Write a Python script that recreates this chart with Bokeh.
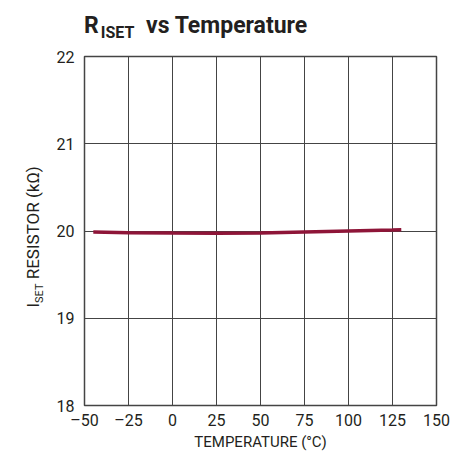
from bokeh.plotting import figure
from bokeh.models import Range1d, FixedTicker, Div
from bokeh.layouts import column, row
from bokeh.embed import file_html
from bokeh.resources import INLINE

temperature = [-45, -25, 0, 25, 50, 75, 100, 125, 130]
resistance = [19.989, 19.981, 19.977, 19.974, 19.977, 19.989, 20.0, 20.011, 20.015]
x_ticks = [-50, -25, 0, 25, 50, 75, 100, 125, 150]
x_tick_labels = ["–50", "–25", "0", "25", "50", "75", "100", "125", "150"]
y_ticks = [18, 19, 20, 21, 22]

FONT = "Roboto"
GRID = "#444444"
TXT = "#231f20"

W, H = 449, 443          # whole layout (page has an 8px margin)
TITLE_H = 38
YLAB_W = 40
FRAME_L, FRAME_R, FRAME_T, FRAME_B = 74, 426, 46, 398   # frame in layout coordinates

p = figure(width=W - YLAB_W, height=H - TITLE_H, output_backend="svg", toolbar_location=None,
           x_range=Range1d(-50, 150), y_range=Range1d(18, 22),
           min_border_left=FRAME_L - YLAB_W, min_border_right=W - FRAME_R,
           min_border_top=FRAME_T - TITLE_H, min_border_bottom=H - FRAME_B)

p.line(temperature, resistance, line_color="#8e1538", line_width=3.5)

for ax in (p.xaxis[0], p.yaxis[0]):
    ax.axis_line_color = None
    ax.major_tick_line_color = None
    ax.minor_tick_line_color = None
    ax.major_tick_out = 0
    ax.major_tick_in = 0
    ax.minor_tick_out = 0
    ax.major_label_text_font = FONT
    ax.major_label_text_font_size = "16px"
    ax.major_label_text_color = TXT

p.xaxis[0].ticker = FixedTicker(ticks=x_ticks)
p.xaxis[0].major_label_overrides = {t: l for t, l in zip(x_ticks, x_tick_labels)}
p.xaxis[0].major_label_standoff = 5
p.xaxis[0].axis_label = "TEMPERATURE (°C)"
p.xaxis[0].axis_label_text_font = FONT
p.xaxis[0].axis_label_text_font_size = "15px"
p.xaxis[0].axis_label_text_font_style = "normal"
p.xaxis[0].axis_label_text_color = TXT
p.xaxis[0].axis_label_standoff = 0
p.yaxis[0].ticker = FixedTicker(ticks=y_ticks)
p.yaxis[0].major_label_standoff = 10

p.xgrid.ticker = FixedTicker(ticks=x_ticks)
p.ygrid.ticker = FixedTicker(ticks=y_ticks)
p.grid.grid_line_color = GRID
p.grid.grid_line_width = 1
p.grid.grid_line_alpha = 1

p.outline_line_color = GRID
p.outline_line_width = 1.5
p.outline_line_alpha = 1

title_html = (
    f'<div style="position:relative;width:{W}px;height:{TITLE_H}px;">'
    f'<div style="position:absolute;left:79px;top:10px;white-space:nowrap;font-family:{FONT};'
    f'font-weight:bold;font-size:23px;line-height:22px;color:{TXT};">'
    'R<span style="font-size:16px;position:relative;top:5px;margin-left:2px;margin-right:6px;">ISET</span>'
    ' vs Temperature</div></div>'
)
title = Div(text=title_html, width=W, height=TITLE_H)

ylab_center = (FRAME_T + FRAME_B) / 2 - TITLE_H
ylab_html = (
    f'<div style="position:relative;width:{YLAB_W}px;height:{H - TITLE_H}px;">'
    f'<div style="position:absolute;left:20px;top:{ylab_center}px;white-space:nowrap;'
    f'font-family:{FONT};font-size:17px;line-height:17px;color:{TXT};'
    'transform-origin:left top;transform:rotate(-90deg) translateX(-50%);">'
    'I<span style="font-size:11px;position:relative;top:4px;">SET</span> RESISTOR (kΩ)'
    '</div></div>'
)
ylab = Div(text=ylab_html, width=YLAB_W, height=H - TITLE_H)

layout = column(title, row(ylab, p, spacing=0), spacing=0)

open("out.html", "w").write(file_html(layout, INLINE))
